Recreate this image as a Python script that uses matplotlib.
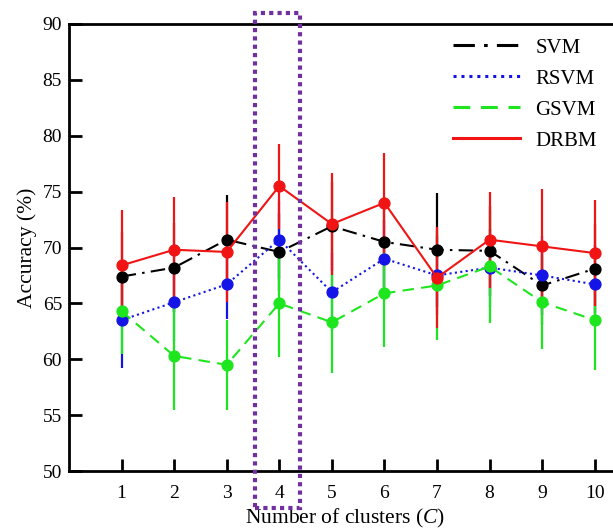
import matplotlib
matplotlib.use("Agg")
import matplotlib.pyplot as plt
from matplotlib.lines import Line2D
from matplotlib.patches import Rectangle

plt.rcParams["font.family"] = ["Liberation Serif", "DejaVu Serif"]
plt.rcParams["mathtext.fontset"] = "custom"
plt.rcParams["mathtext.it"] = "Liberation Serif:italic"
plt.rcParams["mathtext.rm"] = "Liberation Serif"

clusters = [1, 2, 3, 4, 5, 6, 7, 8, 9, 10]

svm = [67.4, 68.2, 70.7, 69.6, 71.9, 70.5, 69.8, 69.7, 66.6, 68.1]
svm_err = [4.0, 4.0, 4.0, 3.5, 4.0, 4.0, 5.1, 4.0, 3.5, 4.0]

rsvm = [63.5, 65.1, 66.7, 70.7, 66.0, 69.0, 67.5, 68.2, 67.5, 66.7]
rsvm_err = [4.3, 3.5, 3.1, 3.5, 3.5, 3.5, 3.5, 3.5, 3.5, 3.5]

gsvm = [64.3, 60.3, 59.5, 65.0, 63.3, 65.9, 66.6, 68.3, 65.1, 63.5]
gsvm_err = [3.8, 4.8, 4.0, 4.8, 4.5, 4.8, 4.9, 5.1, 4.2, 4.5]

drbm = [68.4, 69.8, 69.6, 75.5, 72.1, 74.0, 67.3, 70.7, 70.1, 69.5]
drbm_err = [5.0, 4.7, 4.5, 3.8, 4.6, 4.45, 4.5, 4.3, 5.1, 4.75]

series = [
    ("SVM", svm, svm_err, "#000000", (0, (7, 3, 1.2, 3))),
    ("RSVM", rsvm, rsvm_err, "#1414E6", (0, (1, 1.6))),
    ("GSVM", gsvm, gsvm_err, "#1EE61E", (0, (5.5, 3.5))),
    ("DRBM", drbm, drbm_err, "#F01414", "-"),
]

fig = plt.figure(figsize=(6.13, 5.29), dpi=100)
ax = fig.add_axes([69 / 613, 58 / 529, 552 / 613, 447 / 529])

handles = []
for name, vals, errs, color, ls in series:
    line, caps, bars = ax.errorbar(
        clusters, vals, yerr=errs, color=color, ecolor=color, elinewidth=1.6,
        capsize=0, marker="o", markersize=7.8, linewidth=1.5,
    )
    line.set_linestyle(ls)
    handles.append(Line2D([], [], color=color, linestyle=ls, linewidth=2.2, label=name))

# highlighted C = 4 column
box = Rectangle((3.53, 46.7), 0.87, 44.3, fill=False, edgecolor="#7030A0",
                linewidth=3, linestyle=(0, (1, 1)), clip_on=False, zorder=5)
ax.add_patch(box)

ax.set_xlim(0, 10.5)
ax.set_ylim(50, 90)
ax.set_xticks(clusters)
ax.set_yticks(range(50, 91, 5))
ax.tick_params(direction="in", length=9, width=2, labelsize=14)
ax.tick_params(axis="y", pad=5)
ax.tick_params(axis="x", pad=10)
for side in ["left", "bottom", "top"]:
    ax.spines[side].set_linewidth(2)
ax.spines["right"].set_visible(False)

ax.set_xlabel("Number of clusters ($C$)", fontsize=15.5, labelpad=4)
ax.set_ylabel("Accuracy (%)", fontsize=15.5, labelpad=4)

fig.legend(handles=handles, loc="upper left", bbox_to_anchor=(453 / 613, 1 - 38 / 529),
           frameon=False, fontsize=15, handlelength=3.2, handletextpad=0.75,
           labelspacing=0.55, borderpad=0, borderaxespad=0)

fig.savefig("out.png", dpi=100)
